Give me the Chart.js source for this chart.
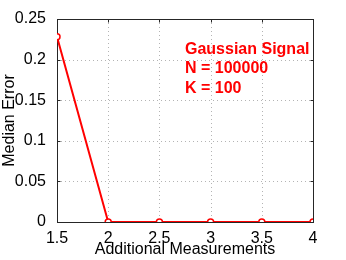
<!DOCTYPE html>
<html>
<head>
<meta charset="utf-8">
<script src="https://cdn.jsdelivr.net/npm/chart.js@4/dist/chart.umd.min.js"></script>
<style>
  html, body { margin: 0; padding: 0; background: #fff; }
  #wrap { width: 346px; height: 260px; }
</style>
</head>
<body>
<div id="wrap"><canvas id="myChart" width="346" height="260"></canvas></div>
<script>
var measurements = [1.5, 2, 2.5, 3, 3.5, 4];
var medianError = [0.228, 0, 0, 0, 0, 0];
var noteLines = ['Gaussian Signal', 'N = 100000', 'K = 100'];

var ctx = document.getElementById('myChart').getContext('2d');

function fmt(v) {
    return String(Number(v.toFixed(2)));
}

// matlab style box, dotted grid and inward ticks
var matlabAxes = {
    id: 'matlabAxes',
    beforeDatasetsDraw: function(chart) {
        var c = chart.ctx, a = chart.chartArea;
        var xs = chart.scales.x, ys = chart.scales.y;
        c.save();
        c.strokeStyle = '#b4b4b4';
        c.lineWidth = 1;
        c.setLineDash([1, 3]);
        xs.ticks.forEach(function(t) {
            var px = Math.round(xs.getPixelForValue(t.value)) + 0.5;
            if (px < a.left + 2 || px > a.right - 2) return;
            c.beginPath(); c.moveTo(px, a.top); c.lineTo(px, a.bottom); c.stroke();
        });
        ys.ticks.forEach(function(t) {
            var py = Math.round(ys.getPixelForValue(t.value)) + 0.5;
            if (py < a.top + 2 || py > a.bottom - 2) return;
            c.beginPath(); c.moveTo(a.left, py); c.lineTo(a.right, py); c.stroke();
        });
        c.setLineDash([]);
        c.strokeStyle = '#262626';
        var l = Math.round(a.left) + 0.5, r = Math.round(a.right) + 0.5;
        var t0 = Math.round(a.top) + 0.5, b = Math.round(a.bottom) + 0.5;
        c.strokeRect(l, t0, r - l, b - t0);
        c.beginPath();
        xs.ticks.forEach(function(t) {
            var px = Math.round(xs.getPixelForValue(t.value)) + 0.5;
            c.moveTo(px, b); c.lineTo(px, b - 3);
            c.moveTo(px, t0); c.lineTo(px, t0 + 3);
        });
        ys.ticks.forEach(function(t) {
            var py = Math.round(ys.getPixelForValue(t.value)) + 0.5;
            c.moveTo(l, py); c.lineTo(l + 3, py);
            c.moveTo(r, py); c.lineTo(r - 3, py);
        });
        c.stroke();
        c.restore();
    },
    afterDatasetsDraw: function(chart) {
        var c = chart.ctx;
        var xs = chart.scales.x, ys = chart.scales.y;
        var x0 = xs.getPixelForValue(2.75);
        var y0 = ys.getPixelForValue(0.207);
        c.save();
        c.fillStyle = '#ff0000';
        c.font = 'bold 16px "Liberation Sans", Arial, sans-serif';
        c.textBaseline = 'alphabetic';
        c.textAlign = 'left';
        noteLines.forEach(function(s, i) {
            c.fillText(s, x0, y0 + i * 19.3);
        });
        c.restore();
    }
};

var graphData = {
    type: 'scatter',
    data: {
        datasets: [{
            data: measurements.map(function(m, i) { return {x: m, y: medianError[i]}; }),
            showLine: true,
            borderColor: '#ff0000',
            borderWidth: 2,
            pointRadius: 3,
            pointBorderWidth: 1.5,
            pointBackgroundColor: '#ffffff',
            pointBorderColor: '#ff0000',
            tension: 0
        }]
    },
    options: {
        responsive: false,
        animation: false,
        layout: { padding: { left: 0, top: 19, right: 33, bottom: 0 } },
        plugins: { legend: { display: false }, tooltip: { enabled: false } },
        scales: {
            x: {
                type: 'linear',
                min: 1.5,
                max: 4,
                grid: { display: false },
                border: { display: false },
                afterFit: function(s) { s.height = 38; },
                ticks: {
                    stepSize: 0.5,
                    padding: -1,
                    color: '#000',
                    font: { family: '"Liberation Sans", Arial, sans-serif', size: 16 },
                    maxRotation: 0,
                    callback: fmt
                },
                title: {
                    display: true,
                    text: 'Additional Measurements',
                    color: '#000',
                    padding: { top: 0, bottom: 1 },
                    font: { family: '"Liberation Sans", Arial, sans-serif', size: 16 }
                }
            },
            y: {
                min: 0,
                max: 0.25,
                grid: { display: false },
                border: { display: false },
                afterFit: function(s) { s.width = 57; },
                ticks: {
                    stepSize: 0.05,
                    padding: 3,
                    color: '#000',
                    font: { family: '"Liberation Sans", Arial, sans-serif', size: 16 },
                    callback: fmt
                },
                title: {
                    display: true,
                    text: 'Median Error',
                    color: '#000',
                    padding: { top: 0, bottom: 0 },
                    font: { family: '"Liberation Sans", Arial, sans-serif', size: 16 }
                }
            }
        }
    },
    plugins: [matlabAxes]
};

var myChart = new Chart(ctx, graphData);
</script>
</body>
</html>
